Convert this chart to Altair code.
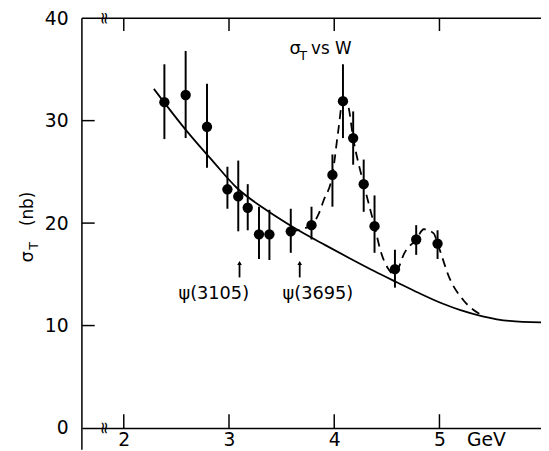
import altair as alt
import pandas as pd

# ---- data ----
W_pts = [2.386, 2.588, 2.791, 2.985, 3.088, 3.178, 3.285, 3.384, 3.587,
         3.784, 3.983, 4.083, 4.180, 4.280, 4.383, 4.577, 4.779, 4.982]
sigma_pts = [31.8, 32.5, 29.4, 23.3, 22.6, 21.5, 18.9, 18.9, 19.2,
             19.8, 24.7, 31.9, 28.3, 23.8, 19.7, 15.5, 18.4, 18.0]
err_lo = [28.2, 28.3, 25.4, 21.4, 19.2, 19.3, 16.5, 16.4, 17.1,
          18.4, 21.6, 28.3, 25.7, 21.1, 17.1, 13.7, 16.9, 16.5]
err_hi = [35.5, 36.8, 33.6, 25.5, 26.1, 23.8, 21.6, 21.3, 21.4,
          21.6, 26.7, 35.5, 30.9, 26.2, 22.7, 17.4, 19.8, 19.3]

# smooth background (solid)
W_bg = [2.286, 2.605, 2.85, 3.073, 3.33, 3.587, 3.915, 4.15, 4.383,
        4.6, 4.8, 5.04, 5.2, 5.41, 5.665, 5.965]
sigma_bg = [33.1, 28.9, 26.0, 23.45, 21.45, 19.75, 17.85, 16.55, 15.3,
            14.2, 13.2, 12.1, 11.5, 10.9, 10.45, 10.3]

# resonance fit (dashed)
W_fit = [3.587, 3.784, 3.852, 3.899, 3.983, 4.037, 4.083, 4.130, 4.180,
         4.280, 4.320, 4.383, 4.446, 4.510, 4.560, 4.600, 4.663, 4.779,
         4.851, 4.945, 4.982, 5.101, 5.226, 5.412]
sigma_fit = [19.2, 19.8, 20.9, 22.2, 24.7, 28.9, 32.0, 31.5, 28.3,
             23.8, 22.2, 19.7, 17.1, 15.6, 15.05, 15.4, 17.0, 18.4,
             19.4, 19.0, 18.0, 14.5, 12.5, 10.95]

# psi markers
psi_labels = ["\u03c8(3105)", "\u03c8(3695)"]
psi_arrow_W = [3.10, 3.672]
psi_label_W = [2.855, 3.845]

x_ticks = [2, 3, 4, 5]
y_ticks = [0, 10, 20, 30, 40]
y_inner_ticks = [10, 20, 30]

W_MIN, W_MAX = 1.602, 5.965
PW, PH = 466, 416
FONT = "DejaVu Sans"

pts = pd.DataFrame({"W": W_pts, "s": sigma_pts, "lo": err_lo, "hi": err_hi})
bg = pd.DataFrame({"W": W_bg, "s": sigma_bg})
fit = pd.DataFrame({"W": W_fit, "s": sigma_fit})
psi = pd.DataFrame({"W": psi_arrow_W, "lw": psi_label_W, "label": psi_labels,
                    "s": [14.7, 14.7], "a1": [16.1, 16.1], "ly": [13.1, 13.1]})
one = pd.DataFrame({"W": [3.0], "s": [20.0]})

xs = alt.Scale(domain=[W_MIN, W_MAX], nice=False, zero=False)
ys = alt.Scale(domain=[0, 40], nice=False, zero=True)

x_axis = alt.Axis(values=x_ticks, ticks=False, grid=False, title=None,
                  labelFontSize=19, labelFont=FONT, labelColor="black",
                  labelPadding=3, labelFlush=False, domainColor="black",
                  domainWidth=1.5, labelBaseline="top")
y_axis = alt.Axis(values=y_ticks, ticks=False, grid=False, title=None,
                  labelFontSize=19, labelFont=FONT, labelColor="black",
                  labelPadding=14, domain=False, labelFlush=False)


def X(f):
    return alt.X(f"{f}:Q", scale=xs, axis=x_axis)


def Y(f):
    return alt.Y(f"{f}:Q", scale=ys, axis=y_axis)


errbars = alt.Chart(pts).mark_rule(color="black", strokeWidth=2).encode(
    x=X("W"), y=Y("lo"), y2="hi:Q")
dots = alt.Chart(pts).mark_circle(color="black", opacity=1, size=110).encode(
    x=X("W"), y=Y("s"))
bg_line = alt.Chart(bg).mark_line(color="black", strokeWidth=1.8,
                                  interpolate="monotone").encode(x=X("W"), y=Y("s"))
fit_line = alt.Chart(fit).mark_line(color="black", strokeWidth=1.8,
                                    strokeDash=[9, 6],
                                    interpolate="monotone").encode(x=X("W"), y=Y("s"))

# frame lines
top_line = alt.Chart(one).mark_rule(color="black", strokeWidth=1.5).encode(
    x=alt.value(0), x2=alt.value(PW), y=alt.value(0))
left_line = alt.Chart(one).mark_rule(color="black", strokeWidth=1.5).encode(
    x=alt.value(0), y=alt.value(0), y2=alt.value(PH + 22))

# inward ticks
tx = pd.DataFrame({"W": x_ticks})
ty = pd.DataFrame({"s": y_inner_ticks})
bot_ticks = alt.Chart(tx).mark_rule(color="black", strokeWidth=1.5).encode(
    x=X("W"), y=alt.value(PH), y2=alt.value(PH - 14))
top_ticks = alt.Chart(tx).mark_rule(color="black", strokeWidth=1.5).encode(
    x=X("W"), y=alt.value(0), y2=alt.value(13))
left_ticks = alt.Chart(ty).mark_rule(color="black", strokeWidth=1.5).encode(
    y=Y("s"), x=alt.value(0), x2=alt.value(13))

# axis breaks
brk = pd.DataFrame({"W": [1.808, 1.808], "s": [40, 0]})
breaks = alt.Chart(brk).mark_text(text="\u2248", angle=90, fontSize=17,
                                  font=FONT, color="black").encode(
    x=X("W"), y=Y("s"))

# GeV unit label
gev = alt.Chart(pd.DataFrame({"W": [5.446]})).mark_text(
    text="GeV", fontSize=19, font=FONT, baseline="top", color="black").encode(
    x=X("W"), y=alt.value(PH + 3))

# psi arrows and labels
arrows = alt.Chart(psi).mark_rule(color="black", strokeWidth=1.8).encode(
    x=X("W"), y=Y("s"), y2="a1:Q")
heads = alt.Chart(psi).mark_point(shape="triangle-up", filled=True, color="black",
                                  opacity=1, size=22).encode(
    x=X("W"), y=Y("a1"))
psi_text = alt.Chart(psi).mark_text(fontSize=18, font=FONT, color="black",
                                    baseline="middle").encode(
    x=X("lw"), y=Y("ly"), text="label:N")

# in-plot title "σT vs W"
ttl = pd.DataFrame({"W": [3.575, 3.668, 3.78], "s": [36.54, 35.96, 36.54],
                    "t": ["\u03c3", "T", "vs W"], "fs": [18, 13, 17]})
title_txt = alt.Chart(ttl).mark_text(font=FONT, color="black", align="left",
                                     baseline="alphabetic").encode(
    x=X("W"), y=Y("s"),
    text="t:N", size=alt.Size("fs:Q", scale=None, legend=None))

# y axis title (rotated)
yt1 = alt.Chart(one).mark_text(text="\u03c3", angle=270, fontSize=18, font=FONT,
                               align="left", baseline="alphabetic", color="black").encode(
    x=alt.value(-50), y=alt.value(248))
yt2 = alt.Chart(one).mark_text(text="T", angle=270, fontSize=13, font=FONT,
                               align="left", baseline="alphabetic", color="black").encode(
    x=alt.value(-45), y=alt.value(235))
yt3 = alt.Chart(one).mark_text(text="(nb)", angle=270, fontSize=17, font=FONT,
                               align="left", baseline="alphabetic", color="black").encode(
    x=alt.value(-50), y=alt.value(211))

chart = alt.layer(
    bg_line, fit_line, errbars, dots, top_line, left_line, bot_ticks, top_ticks,
    left_ticks, breaks, gev, arrows, heads, psi_text, title_txt, yt1, yt2, yt3
).properties(
    width=PW, height=PH,
    autosize=alt.AutoSizeParams(type="none"),
    padding={"left": 75, "top": 7, "right": 0, "bottom": 20},
).configure_view(stroke=None).configure(background="white")

chart.save("out.html", embed_options={"renderer": "svg", "actions": False})
